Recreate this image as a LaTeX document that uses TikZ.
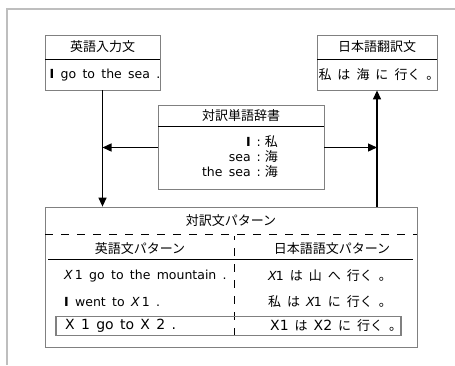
\documentclass[tikz,border=0pt]{standalone}
\usepackage{fontspec}
\setmainfont{DejaVu Sans}
\newfontfamily\jpf{Noto Sans CJK JP}
\usetikzlibrary{arrows.meta}
\newcommand\J[1]{{\jpf\fontsize{13}{15}\selectfont #1}}
\newcommand\gap{\hspace{6pt}}
\newcommand\ix{\textit{X}}
\newcommand\widesp{\spaceskip=6.3pt plus 0pt\relax}
\definecolor{framegray}{RGB}{190,190,190}
\definecolor{boxgray}{RGB}{128,128,128}
\tikzset{
  box/.style={draw=boxgray, line width=0.8pt, rectangle, inner sep=0pt},
  lbl/.style={inner sep=0pt, font=\fontsize{12.5}{15}\selectfont\widesp},
  divline/.style={line width=0.8pt, black},
  dashln/.style={line width=0.8pt, black, dash pattern=on 8pt off 8pt},
  arr/.style={line width=1.3pt, -{Triangle[length=9pt,width=8pt]}},
  hl/.style={draw=boxgray, line width=1.8pt, rectangle, inner sep=0pt},
  hlt/.style={inner sep=0pt, font=\fontsize{14}{16}\selectfont\widesp},
}
\begin{document}
\begin{tikzpicture}[x=1pt,y=-1pt]
\useasboundingbox (0,0) rectangle (455,365);
% outer frame
\draw[framegray, line width=1.3pt] (7,365) -- (7,9) -- (455,9);
% input box
\node[box, minimum width=115pt, minimum height=55pt] (inp) at (102.5,62.5) {};
\draw[divline] (45,59) -- (160,59);
\node[lbl] (inpT) at (102.5,47) {\J{英語入力文}};
\node[lbl] (inpB) at (105,75) {\textbf{I} go to the sea .};
% output box
\node[box, minimum width=120pt, minimum height=55pt] (out) at (377,62.5) {};
\draw[divline] (317,59) -- (437,59);
\node[lbl] (outT) at (377,47) {\J{日本語翻訳文}};
\node[lbl] (outB) at (379,75) {\J{私\gap は\gap 海\gap に\gap 行く\gap 。}};
% dictionary box
\node[box, minimum width=166pt, minimum height=84pt] (dict) at (241,147.5) {};
\draw[divline] (158,126) -- (324,126);
\node[lbl] (dictT) at (241,116) {\J{対訳単語辞書}};
\node[lbl, anchor=north] (dictB) at (240,135) {\def\arraystretch{1.0}\begin{tabular}{@{}r@{\hspace{6pt}:\hspace{4pt}}l@{}}\textbf{I} & \J{私}\\ sea & \J{海}\\ the sea & \J{海}\end{tabular}};
% pattern box
\node[box, minimum width=372pt, minimum height=140pt] (pat) at (231,277) {};
\node[lbl] (patT) at (231,221) {\J{対訳文パターン}};
\draw[dashln] (45,234) -- (417,234);
\node[lbl] (hE) at (140,249) {\J{英語文パターン}};
\node[lbl] (hJ) at (332,249) {\J{日本語語文パターン}};
\draw[divline] (48,259) -- (413,259);
\draw[dashln, dash phase=4pt] (234,236) -- (234,341);
\node[lbl, anchor=west] (e1) at (64,276) {\ix\hspace{2pt}1 go to the mountain .};
\node[lbl, anchor=west] (e2) at (64,302) {\textbf{I} went to \ix\hspace{2pt}1 .};
\node[lbl, anchor=west] (j1) at (268,276) {\ix\hspace{-1pt}1\gap\J{は\gap 山\gap へ\gap 行く\gap 。}};
\node[lbl, anchor=west] (j2) at (268,302) {\J{私\gap は}\gap\ix\hspace{-1pt}1\gap\J{に\gap 行く\gap 。}};
\node[hl, minimum width=345pt, minimum height=19pt] (hlb) at (228.5,326) {};
\node[hlt, anchor=west] (e3) at (65,326) {X 1 go to X 2 .};
\node[hlt, anchor=west] (j3) at (270,326) {X1\gap\J{は}\gap X2\gap\J{に\gap 行く\gap 。}};
% arrows
\coordinate (jL) at (inp.south |- dict.west);
\coordinate (jR) at (out.south |- dict.east);
\draw[arr] (inp.south) -- (pat.north -| inp.south);
\draw[arr] (dict.west) -- (jL);
\draw[arr] (dict.east) -- (jR);
\draw[arr] (pat.north -| out.south) -- (out.south);
\end{tikzpicture}
\end{document}
